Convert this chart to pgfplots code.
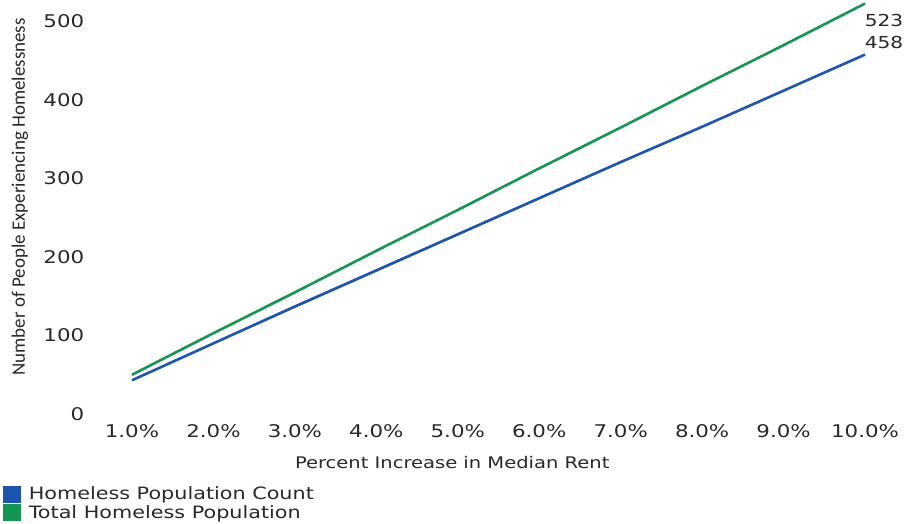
\documentclass[border=0pt]{standalone}
\usepackage{fontspec}
\setmainfont{DejaVu Sans}[FakeStretch=1.22]
\newfontfamily\condfont{Carlito}
\usepackage{pgfplots}
\pgfplotsset{compat=1.18}
\definecolor{lblue}{RGB}{28,84,176}
\definecolor{lgreen}{RGB}{18,150,82}
\definecolor{txt}{RGB}{40,40,40}
\begin{document}
\begin{tikzpicture}
\useasboundingbox (0,0) rectangle (907pt,524pt);
\begin{axis}[
  at={(99.4pt,110pt)}, anchor=south west,
  scale only axis, width=798.2pt, height=412pt,
  xmin=0.6, xmax=10.4, ymin=0, ymax=525, clip=false,
  axis line style={draw=none}, tick style={draw=none},
  xtick={1,2,3,4,5,6,7,8,9,10},
  xticklabels={1.0\%,2.0\%,3.0\%,4.0\%,5.0\%,6.0\%,7.0\%,8.0\%,9.0\%,10.0\%},
  ytick={0,100,200,300,400,500},
  /pgf/number format/assume math mode=true,
  ticklabel style={font=\fontsize{17.5}{20}\selectfont, text=txt, inner sep=0pt},
  yticklabel shift=15pt,
  xticklabel shift=10pt,
  xlabel={Percent Increase in Median Rent},
  xlabel style={at={(axis description cs:0.442,-0.119)}, anchor=center, font=\fontsize{16}{18}\selectfont, text=txt},
  ylabel={Number of People Experiencing Homelessness},
  ylabel style={at={(axis description cs:-0.0995,0.527)}, anchor=center, font=\condfont\fontsize{19}{21}\selectfont, text=txt},
  legend style={at={(axis description cs:-0.1208,-0.172)}, anchor=north west, draw=none, fill=none, font=\fontsize{17}{20}\selectfont, text=txt, inner sep=0pt, row sep=0pt, column sep=6pt, cells={anchor=west}},
  legend cell align=left,
  legend image code/.code={\fill[#1] (0pt,-7pt) rectangle (15pt,7pt);},
]
\addplot[lblue, line width=2.6pt, fill=lblue] coordinates {(1,43) (2,90) (3,137) (4,183) (5,229) (6,275) (7,321) (8,366) (9,412) (10,458)};
\addlegendentry{Homeless Population Count}
\addplot[lgreen, line width=2.6pt, fill=lgreen] coordinates {(1,50) (2,103) (3,155) (4,208) (5,260) (6,313) (7,365) (8,418) (9,470) (10,523)};
\addlegendentry{Total Homeless Population}
\node[anchor=west, inner sep=0pt, font=\fontsize{16.5}{18}\selectfont, text=txt] at (axis cs:9.995,502) {523};
\node[anchor=west, inner sep=0pt, font=\fontsize{16.5}{18}\selectfont, text=txt] at (axis cs:9.995,473) {458};
\end{axis}
\end{tikzpicture}
\end{document}
